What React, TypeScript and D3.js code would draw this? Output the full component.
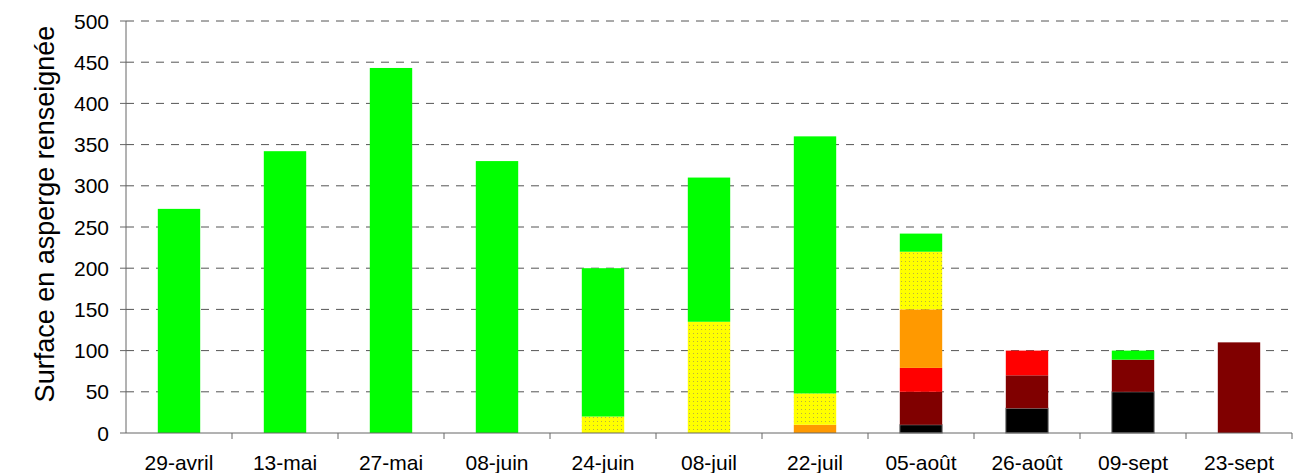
import React from "react";
import * as d3 from "d3";

const categories = ["29-avril", "13-mai", "27-mai", "08-juin", "24-juin", "08-juil", "22-juil", "05-août", "26-août", "09-sept", "23-sept"];
const blackVals = [0, 0, 0, 0, 0, 0, 0, 10, 30, 50, 0];
const darkRedVals = [0, 0, 0, 0, 0, 0, 0, 40, 40, 39, 110];
const redVals = [0, 0, 0, 0, 0, 0, 0, 29, 30, 0, 0];
const orangeVals = [0, 0, 0, 0, 0, 0, 10, 71, 0, 0, 0];
const yellowVals = [0, 0, 0, 0, 20, 135, 38, 70, 0, 0, 0];
const greenVals = [272, 342, 443, 330, 180, 175, 312, 22, 0, 11, 0];
const yTicks = [0, 50, 100, 150, 200, 250, 300, 350, 400, 450, 500];

const seriesList = [
  { key: "black", values: blackVals, fill: "#000000", stroke: "#808080" },
  { key: "darkred", values: darkRedVals, fill: "#800000", stroke: "none" },
  { key: "red", values: redVals, fill: "#ff0000", stroke: "none" },
  { key: "orange", values: orangeVals, fill: "#ff9900", stroke: "none" },
  { key: "yellow", values: yellowVals, fill: "url(#yellowDots)", stroke: "none" },
  { key: "green", values: greenVals, fill: "#00ff00", stroke: "none" },
];

export default function App() {
  const W = 1301, H = 473;
  const x0 = 126, x1 = 1292, yBottom = 433, yTop = 21;
  const x = d3.scaleBand<string>().domain(categories).range([x0, x1]).paddingInner(0.6).paddingOuter(0.3);
  const y = d3.scaleLinear().domain([0, 500]).range([yBottom, yTop]);
  const step = x.step();
  const font = "'Liberation Sans', Arial, sans-serif";

  const rects: React.ReactNode[] = [];
  categories.forEach((c, i) => {
    let base = 0;
    seriesList.forEach((s) => {
      const v = s.values[i];
      if (v > 0) {
        const yt = y(base + v), yb = y(base);
        rects.push(
          <rect key={s.key + i} x={x(c)!} y={yt} width={x.bandwidth()} height={yb - yt}
            fill={s.fill} stroke={s.stroke} strokeWidth={s.stroke === "none" ? 0 : 1} />
        );
        base += v;
      }
    });
  });

  return (
    <svg width={W} height={H} style={{ position: "absolute", left: 0, top: 0, background: "#fff" }}>
      <defs>
        <pattern id="yellowDots" width="4" height="4" patternUnits="userSpaceOnUse">
          <rect width="4" height="4" fill="#ffff00" />
          <rect x="1" y="1" width="1" height="1" fill="#b8b040" />
        </pattern>
      </defs>
      {yTicks.filter((t) => t > 0).map((t) => (
        <line key={"g" + t} x1={x0} x2={1288} y1={y(t)} y2={y(t)} stroke="#555" strokeWidth={1} strokeDasharray="8,7" />
      ))}
      {rects}
      <line x1={x0} x2={x0} y1={yTop} y2={yBottom} stroke="#666" strokeWidth={1} />
      <line x1={x0} x2={x1} y1={yBottom} y2={yBottom} stroke="#666" strokeWidth={1} />
      {yTicks.map((t) => (
        <g key={"yt" + t}>
          <line x1={x0 - 6} x2={x0} y1={y(t)} y2={y(t)} stroke="#666" />
          <text x={109} y={y(t)} dy="0.36em" textAnchor="end" fontFamily={font} fontSize={21} fill="#000">{t}</text>
        </g>
      ))}
      {categories.map((c, i) => (
        <line key={"xt" + i} x1={x0 + (i + 1) * step} x2={x0 + (i + 1) * step} y1={yBottom} y2={yBottom + 6} stroke="#666" />
      ))}
      {categories.map((c) => (
        <text key={"xl" + c} x={x(c)! + x.bandwidth() / 2} y={470} textAnchor="middle" fontFamily={font} fontSize={21} fill="#000">{c}</text>
      ))}
      <text transform={`translate(54,${(yTop + yBottom) / 2 - 13}) rotate(-90)`} textAnchor="middle" fontFamily={font} fontSize={27} fill="#000">Surface en asperge renseignée</text>
    </svg>
  );
}
